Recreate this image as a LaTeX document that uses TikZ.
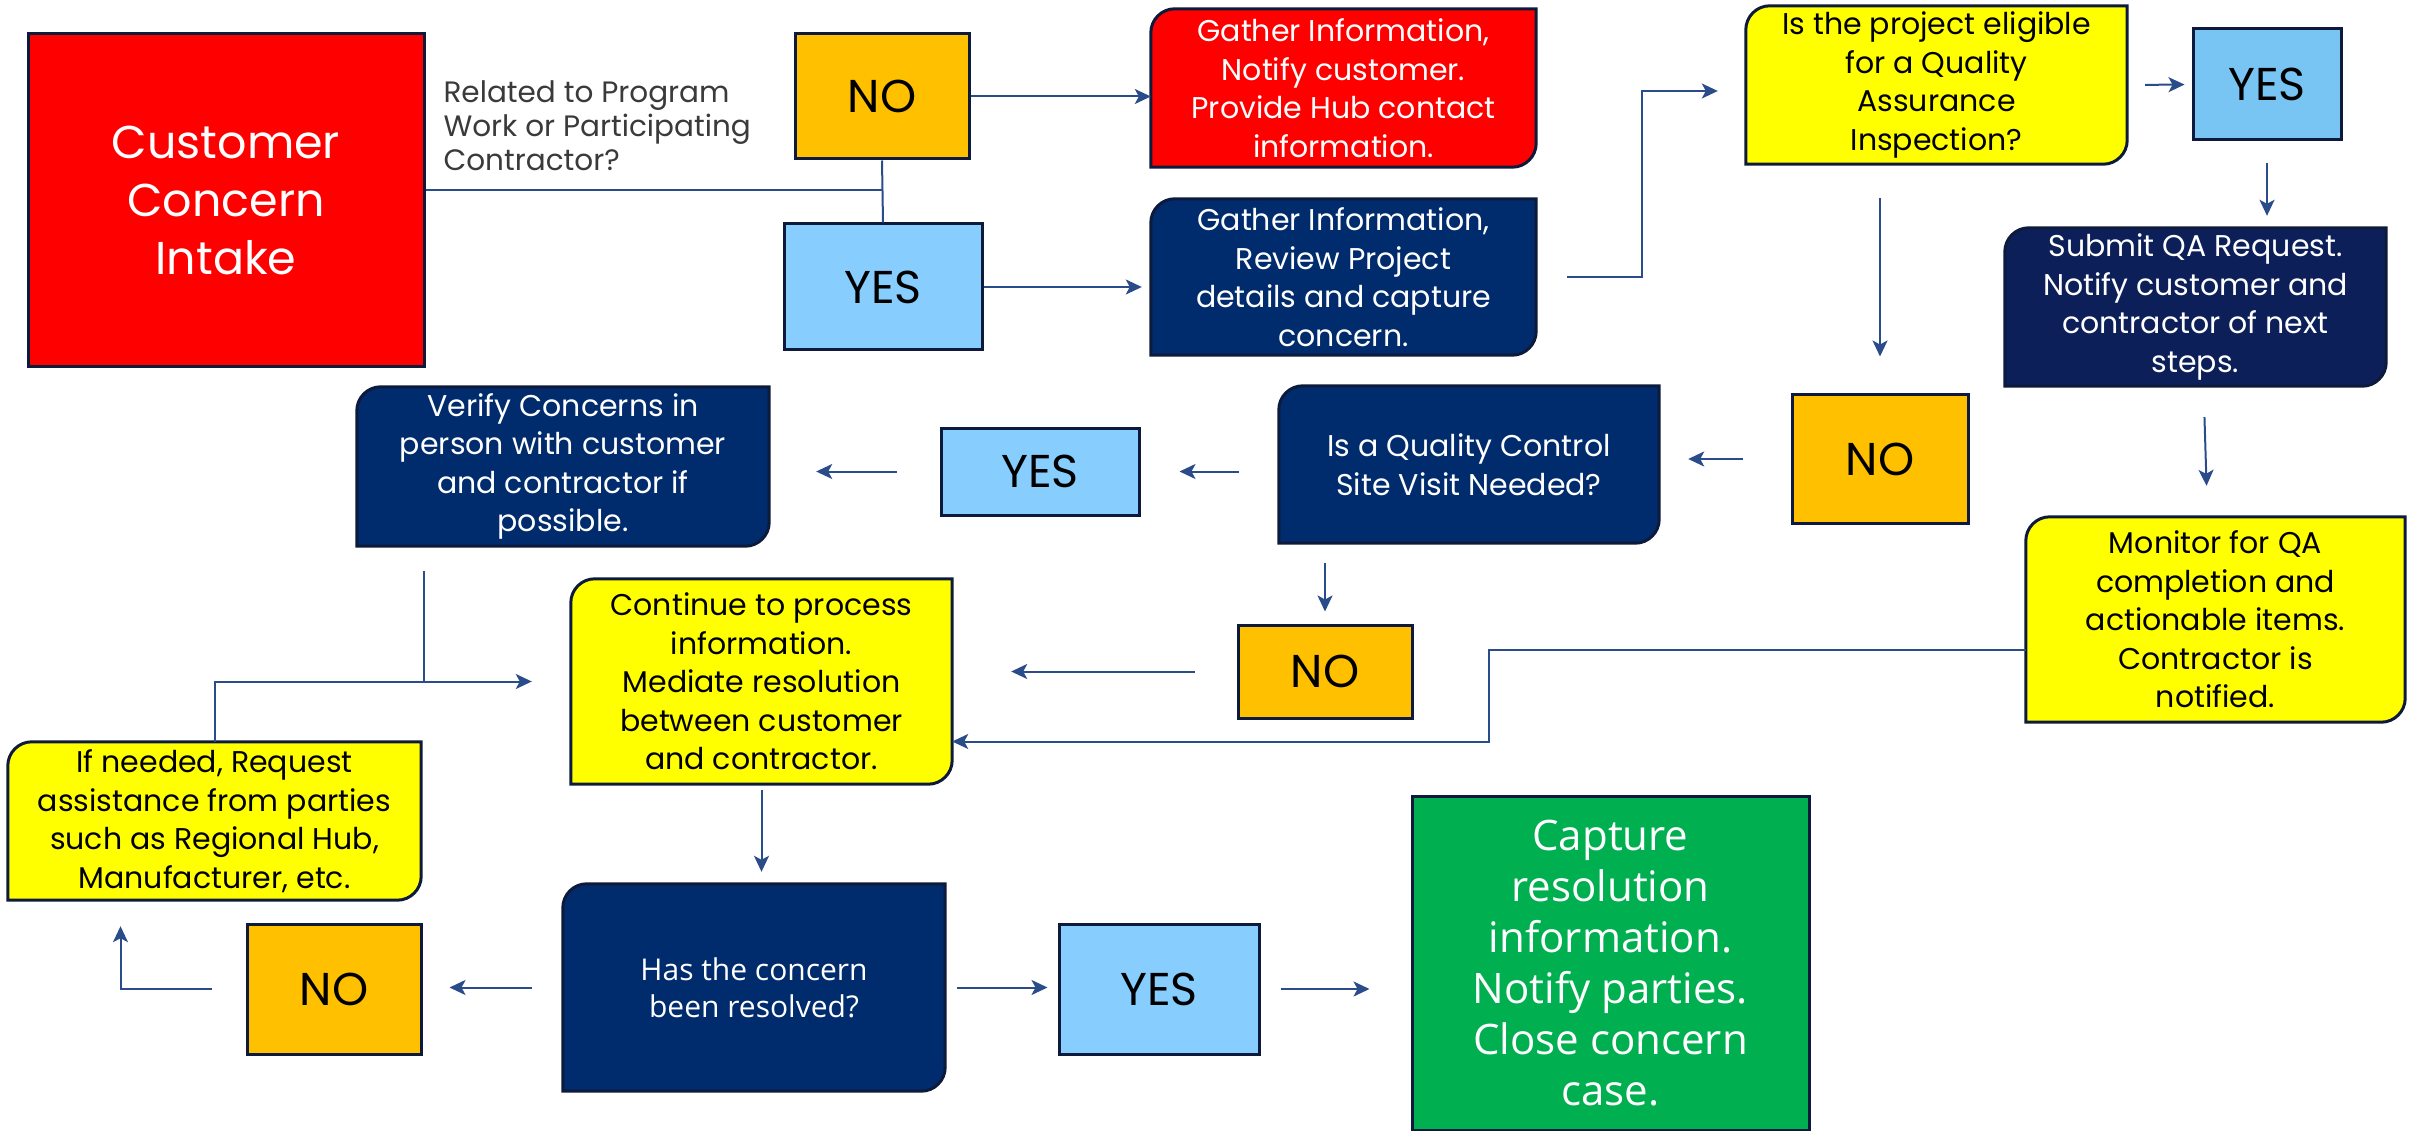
\documentclass[tikz,border=0pt]{standalone}
\usepackage{fontspec}
\setmainfont{Poppins}
\newfontfamily\opensans{Open Sans}
\usetikzlibrary{arrows.meta, positioning, backgrounds}
\definecolor{flowred}{HTML}{FF0000}
\definecolor{flowamber}{HTML}{FFC000}
\definecolor{flowsky}{HTML}{87CDFE}
\definecolor{flowskyb}{HTML}{78C4F2}
\definecolor{flownavy}{HTML}{002C6E}
\definecolor{flownavyb}{HTML}{0C1F58}
\definecolor{flowyellow}{HTML}{FFFF00}
\definecolor{flowgreen}{HTML}{00B050}
\definecolor{flowedge}{HTML}{0E1A3C}
\definecolor{flowline}{HTML}{2A4C8A}
\definecolor{flowgray}{HTML}{3A3A3A}

\tikzset{
  boxline/.style={draw=flowedge, line width=3pt},
  plainbox/.style={boxline, rectangle, align=center, inner sep=0pt},
  softbox/.style={rectangle, align=center, inner sep=0pt},
  answer/.style={plainbox, text=black, font=\fontsize{46}{50}\selectfont},
  steptext/.style={font=\fontsize{30}{38.5}\selectfont},
  conn/.style={draw=flowline, line width=2pt},
  flowarrow/.style={conn, -{Stealth[length=16pt, width=15pt, inset=4pt]}},
}
\newcommand{\crad}{24pt}
% box with the top left and bottom right corners rounded
\newcommand{\roundbox}[2]{%
  \path[boxline, fill=#2]
    ([xshift=\crad]#1.north west) -- (#1.north east)
    -- ([yshift=\crad]#1.south east) arc[start angle=0, end angle=-90, radius=\crad]
    -- (#1.south west)
    -- ([yshift=-\crad]#1.north west) arc[start angle=180, end angle=90, radius=\crad]
    -- cycle;}

\begin{document}
\begin{tikzpicture}[x=1pt, y=-1pt]
\useasboundingbox (0,0) rectangle (2420,1131);

% first question
\node[plainbox, fill=flowred, text=white, minimum width=396pt, minimum height=333pt,
      font=\fontsize{46}{58}\selectfont] (intake) at (226,200.5) {Customer\\Concern\\Intake};
\node[anchor=west, align=left, text=flowgray, font=\fontsize{29.5}{34}\selectfont]
      (related) at (440,126) {Related to Program\\Work or Participating\\Contractor?};
\node[answer, fill=flowamber, minimum width=174pt, minimum height=125pt] (noA) at (882,96.5) {NO};
\node[answer, fill=flowsky, minimum width=198pt, minimum height=126pt] (yesA) at (883,287) {YES};
\node[softbox, steptext, text=white, minimum width=385pt, minimum height=158pt] (hubinfo) at (1343.5,88)
      {Gather Information,\\Notify customer.\\Provide Hub contact\\information.};
\node[softbox, steptext, text=white, minimum width=385pt, minimum height=156pt] (review) at (1343.5,277)
      {Gather Information,\\Review Project\\details and capture\\concern.};

% QA branch
\node[softbox, steptext, text=black, minimum width=381pt, minimum height=158pt] (eligible) at (1936.5,85)
      {Is the project eligible\\for a Quality\\Assurance\\Inspection?};
\node[answer, fill=flowskyb, minimum width=148pt, minimum height=111pt] (yesB) at (2267,84.5) {YES};
\node[softbox, steptext, text=white, minimum width=381pt, minimum height=158pt] (submit) at (2195.5,307)
      {Submit QA Request.\\Notify customer and\\contractor of next\\steps.};
\node[softbox, steptext, text=black, minimum width=379pt, minimum height=205pt] (monitor) at (2215.5,619.5)
      {Monitor for QA\\completion and\\actionable items.\\Contractor is\\notified.};
\node[answer, fill=flowamber, minimum width=176pt, minimum height=128pt] (noB) at (1880,459) {NO};

% QC branch
\node[softbox, steptext, text=white, minimum width=380pt, minimum height=157pt] (qcvisit) at (1469,464.5)
      {Is a Quality Control\\Site Visit Needed?};
\node[answer, fill=flowsky, minimum width=198pt, minimum height=87pt] (yesC) at (1040,471.5) {YES};
\node[softbox, steptext, text=white, minimum width=412pt, minimum height=159pt] (verify) at (563,466.5)
      {Verify Concerns in\\person with customer\\and contractor if\\possible.};
\node[answer, fill=flowamber, minimum width=174pt, minimum height=93pt] (noC) at (1325,671.5) {NO};
\node[softbox, steptext, text=black, minimum width=381pt, minimum height=205pt] (process) at (761.5,681.5)
      {Continue to process\\information.\\Mediate resolution\\between customer\\and contractor.};
\node[softbox, steptext, text=black, minimum width=413pt, minimum height=158pt] (request) at (214.5,821)
      {If needed, Request\\assistance from parties\\such as Regional Hub,\\Manufacturer, etc.};

% resolution
\node[softbox, text=white, minimum width=382pt, minimum height=207pt,
      font=\opensans\fontsize{30}{37}\selectfont] (resolved) at (754,987.5) {Has the concern\\been resolved?};
\node[answer, fill=flowamber, minimum width=174pt, minimum height=130pt] (noD) at (334,989) {NO};
\node[answer, fill=flowsky, minimum width=200pt, minimum height=130pt] (yesD) at (1159,989) {YES};
\node[plainbox, fill=flowgreen, text=white, minimum width=397pt, minimum height=334pt,
      font=\opensans\fontsize{42}{51}\selectfont] (capture) at (1610.5,963)
      {Capture\\resolution\\information.\\Notify parties.\\Close concern\\case.};

\begin{scope}[on background layer]
  \roundbox{hubinfo}{flowred}
  \roundbox{review}{flownavy}
  \roundbox{eligible}{flowyellow}
  \roundbox{submit}{flownavyb}
  \roundbox{monitor}{flowyellow}
  \roundbox{qcvisit}{flownavy}
  \roundbox{verify}{flownavy}
  \roundbox{process}{flowyellow}
  \roundbox{request}{flowyellow}
  \roundbox{resolved}{flownavy}
\end{scope}

% connectors
\coordinate (split) at (883,190);
\draw[conn] (intake.east |- split) -- (split);
\draw[conn] (noA.south) -- (yesA.north);
\draw[flowarrow] (noA.east) -- (noA.east -| hubinfo.west);
\draw[flowarrow, shorten >=9pt] (yesA.east) -- (yesA.east -| review.west);
\draw[flowarrow, shorten <=31pt, shorten >=28pt] (review.east) -- ++(106,0) |- ([yshift=-6pt]eligible.west);
\draw[flowarrow, shorten <=18pt, shorten >=7pt] (eligible.east) -- (yesB.west);
\draw[flowarrow, shorten <=22pt, shorten >=12pt] (yesB.south) -- (yesB.south |- submit.north);
\draw[flowarrow, shorten <=31pt, shorten >=31pt] ([xshift=8pt]submit.south) -- ([xshift=-8pt]monitor.north);
\draw[flowarrow, shorten <=34pt, shorten >=37pt] (eligible.south -| noB) -- (noB.north);
\draw[flowarrow, shorten <=48pt, shorten >=29pt] (noB.west) -- (noB.west -| qcvisit.east);
\draw[flowarrow, shorten <=40pt, shorten >=39pt] (qcvisit.west |- yesC.east) -- (yesC.east);
\draw[flowarrow, shorten <=43pt, shorten >=47pt] (yesC.west) -- (yesC.west -| verify.east);
\draw[flowarrow, shorten <=20pt, shorten >=12pt] (qcvisit.south -| noC) -- (noC.north);
\draw[flowarrow, shorten <=42pt, shorten >=59pt] (noC.west) -- (noC.west -| process.east);
\draw[flowarrow] ([yshift=-30pt]monitor.west) -- ++(-537,0) |- ([yshift=-60pt]process.east);
\draw[conn, shorten <=25pt] ([xshift=-139pt]verify.south) -- ([xshift=-139pt]verify.south |- process.west);
\draw[flowarrow, shorten >=39pt] (request.north) |- (process.west);
\draw[flowarrow, shorten <=6pt, shorten >=12pt] (process.south) -- (process.south |- resolved.north);
\draw[flowarrow, shorten <=31pt, shorten >=27pt] (resolved.west) -- (resolved.west -| noD.east);
\draw[flowarrow, shorten <=34pt, shorten >=26pt] (noD.west) -| ([xshift=-94pt]request.south);
\draw[flowarrow, shorten <=12pt, shorten >=10pt] (resolved.east) -- (resolved.east -| yesD.west);
\draw[flowarrow, shorten <=20pt, shorten >=41pt] (yesD.east) -- (yesD.east -| capture.west);
\end{tikzpicture}
\end{document}
